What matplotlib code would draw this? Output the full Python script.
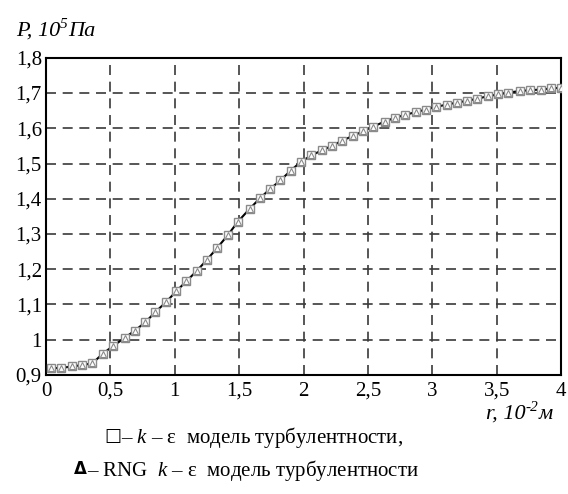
import matplotlib
matplotlib.use("Agg")
import matplotlib.pyplot as plt

# data
r = [0.04, 0.12, 0.20, 0.28, 0.36, 0.44, 0.52, 0.61, 0.69, 0.77,
     0.85, 0.93, 1.01, 1.09, 1.17, 1.25, 1.33, 1.41, 1.49, 1.58,
     1.66, 1.74, 1.82, 1.90, 1.98, 2.06, 2.14, 2.22, 2.30, 2.38,
     2.46, 2.54, 2.63, 2.71, 2.79, 2.87, 2.95, 3.03, 3.11, 3.19,
     3.27, 3.35, 3.43, 3.51, 3.59, 3.68, 3.76, 3.84, 3.92, 4.00]
p_ke = [0.919, 0.920, 0.924, 0.928, 0.933, 0.960, 0.982, 1.005, 1.026, 1.049,
        1.079, 1.106, 1.137, 1.166, 1.195, 1.227, 1.261, 1.296, 1.335, 1.371,
        1.401, 1.428, 1.452, 1.480, 1.505, 1.523, 1.537, 1.550, 1.565, 1.578,
        1.591, 1.605, 1.619, 1.630, 1.638, 1.646, 1.653, 1.661, 1.667, 1.673,
        1.678, 1.684, 1.691, 1.696, 1.701, 1.706, 1.708, 1.710, 1.713, 1.715]
p_rng = [0.919, 0.920, 0.924, 0.928, 0.933, 0.960, 0.982, 1.005, 1.026, 1.049,
         1.079, 1.106, 1.137, 1.166, 1.195, 1.227, 1.261, 1.296, 1.335, 1.371,
         1.401, 1.428, 1.452, 1.480, 1.505, 1.523, 1.537, 1.550, 1.565, 1.578,
         1.591, 1.605, 1.619, 1.630, 1.638, 1.646, 1.653, 1.661, 1.667, 1.673,
         1.678, 1.684, 1.691, 1.696, 1.701, 1.706, 1.708, 1.710, 1.713, 1.715]

xticks = [0, 0.5, 1, 1.5, 2, 2.5, 3, 3.5, 4]
xlabels = ["0", "0,5", "1", "1,5", "2", "2,5", "3", "3,5", "4"]
yticks = [0.9, 1.0, 1.1, 1.2, 1.3, 1.4, 1.5, 1.6, 1.7, 1.8]
ylabels = ["0,9", "1", "1,1", "1,2", "1,3", "1,4", "1,5", "1,6", "1,7", "1,8"]

plt.rcParams['font.family'] = ['Liberation Serif', 'DejaVu Sans']
plt.rcParams['mathtext.fontset'] = 'custom'
plt.rcParams['mathtext.rm'] = 'Liberation Serif'
plt.rcParams['mathtext.it'] = 'Liberation Serif:italic'

fig = plt.figure(figsize=(5.68, 4.94), dpi=100)
ax = fig.add_axes([0.081, 0.241, 0.907, 0.642])

ax.plot(r, p_ke, color='black', lw=1.5, marker='s', ms=6,
        mfc='white', mec='#8a8a8a', mew=1.0, zorder=3)
ax.plot(r, p_rng, color='black', lw=0, marker='^', ms=3.8,
        mfc='white', mec='#8a8a8a', mew=0.8, zorder=4)

ax.set_xlim(0, 4)
ax.set_ylim(0.9, 1.8)
ax.set_xticks(xticks)
ax.set_xticklabels(xlabels)
ax.set_yticks(yticks)
ax.set_yticklabels(ylabels)
ax.tick_params(length=0, labelsize=15, pad=3)
ax.tick_params(axis='x', pad=5)
ax.grid(True, color='#3a3a3a', lw=1.2, ls=(0, (6, 4)))
for s in ax.spines.values():
    s.set_linewidth(1.5)
    s.set_color('black')


def caption(x, y, head, sup, tail):
    # italic caption "head^sup tail" built from pieces
    t1 = fig.text(x, y, head, fontsize=16, style='italic', ha='left', va='bottom')
    t2 = ax.annotate(sup, xy=(1, 1), xycoords=t1, xytext=(0, 2.5),
                     textcoords='offset points', fontsize=11, style='italic',
                     ha='left', va='top', annotation_clip=False)
    t3 = ax.annotate(tail, xy=(1, 0), xycoords=(t2, t1), fontsize=16,
                     style='italic', ha='left', va='bottom', annotation_clip=False)
    return t1, t2, t3


caption(0.028, 0.918, "P, 10", "5", "Па")
caption(0.856, 0.142, "r, 10", "-2", "м")

# legend lines under the chart
m1 = fig.text(0.183, 0.117, "□", fontsize=13, family='DejaVu Sans',
              weight='bold', ha='left', va='center')
ax.annotate(r"– $k$ – ε  модель турбулентности,", xy=(1, 0.45), xycoords=m1,
            xytext=(0, 0), textcoords='offset points', fontsize=15,
            ha='left', va='center', annotation_clip=False)
m2 = fig.text(0.13, 0.05, "Δ", fontsize=12, family='DejaVu Sans',
              weight='bold', ha='left', va='center')
ax.annotate(r"– RNG  $k$ – ε  модель турбулентности", xy=(1, 0.45), xycoords=m2,
            xytext=(0, 0), textcoords='offset points', fontsize=15,
            ha='left', va='center', annotation_clip=False)

fig.savefig("out.png", dpi=100)
